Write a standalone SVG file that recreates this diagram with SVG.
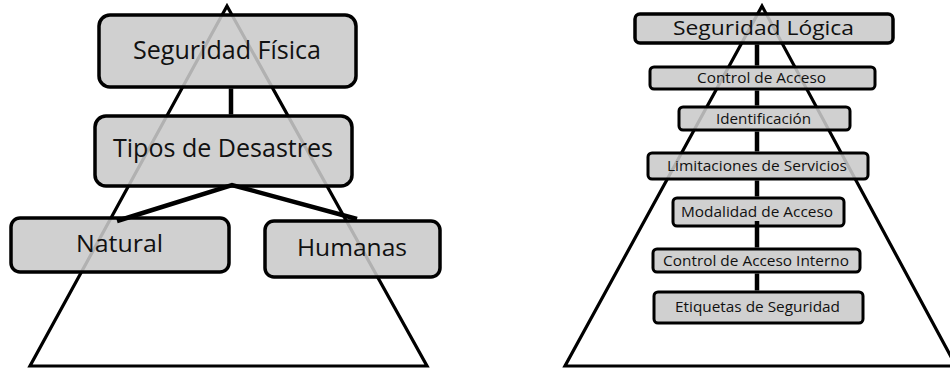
<svg xmlns="http://www.w3.org/2000/svg" width="950" height="369" viewBox="0 0 950 369">
<style>
.tri{fill:none;stroke:#000;stroke-width:3.2;stroke-linejoin:miter}
.box{fill:#cacaca;fill-opacity:0.88;stroke:#000;stroke-width:3.5}
.sbox{fill:#cacaca;fill-opacity:0.88;stroke:#000;stroke-width:3}
.conn{stroke:#000;stroke-width:4.5;fill:none;stroke-linecap:butt}
.t{font-family:"Open Sans","Noto Sans","Liberation Sans",sans-serif;fill:#111;text-anchor:middle}
</style>
<rect width="950" height="369" fill="#fff"/>
<g id="triangles">
<polygon class="tri" points="227,6 30,366 427,366"/>
<polygon class="tri" points="762,6 565,366 956,366"/>
</g>
<g id="n-seguridad-fisica">
<rect class="box" x="99" y="15" width="257" height="72" rx="11"/>
<text class="t" x="227" y="59" font-size="25" textLength="188" lengthAdjust="spacingAndGlyphs">Seguridad Física</text>
</g>
<g id="n-tipos-desastres">
<rect class="box" x="95" y="116" width="257" height="70" rx="11"/>
<text class="t" x="223" y="157" font-size="25" textLength="220" lengthAdjust="spacingAndGlyphs">Tipos de Desastres</text>
</g>
<g id="n-natural">
<rect class="box" x="11" y="218" width="218" height="54" rx="9"/>
<text class="t" x="119.5" y="252" font-size="24" textLength="87" lengthAdjust="spacingAndGlyphs">Natural</text>
</g>
<g id="n-humanas">
<rect class="box" x="265" y="221" width="175" height="56" rx="9"/>
<text class="t" x="352" y="256" font-size="24" textLength="110" lengthAdjust="spacingAndGlyphs">Humanas</text>
</g>
<g id="n-seguridad-logica">
<rect class="box" x="635" y="14" width="258" height="29" rx="5"/>
<text class="t" x="763.5" y="34.5" font-size="20" textLength="181" lengthAdjust="spacingAndGlyphs">Seguridad Lógica</text>
</g>
<g id="n-control-acceso">
<rect class="sbox" x="650" y="67" width="225" height="22" rx="4"/>
<text class="t" x="761.5" y="82.5" font-size="14" textLength="129" lengthAdjust="spacingAndGlyphs">Control de Acceso</text>
</g>
<g id="n-identificacion">
<rect class="sbox" x="679" y="107" width="171" height="23" rx="4"/>
<text class="t" x="763.5" y="123.5" font-size="14" textLength="95" lengthAdjust="spacingAndGlyphs">Identificación</text>
</g>
<g id="n-limitaciones">
<rect class="sbox" x="648" y="153" width="220" height="26" rx="4"/>
<text class="t" x="757" y="170.5" font-size="14" textLength="180" lengthAdjust="spacingAndGlyphs">Limitaciones de Servicios</text>
</g>
<g id="n-modalidad">
<rect class="sbox" x="673" y="198" width="171" height="28" rx="4"/>
<text class="t" x="757" y="216.5" font-size="14" textLength="152" lengthAdjust="spacingAndGlyphs">Modalidad de Acceso</text>
</g>
<g id="n-control-interno">
<rect class="sbox" x="653" y="249" width="207" height="23" rx="4"/>
<text class="t" x="756" y="265.5" font-size="14" textLength="186" lengthAdjust="spacingAndGlyphs">Control de Acceso Interno</text>
</g>
<g id="n-etiquetas">
<rect class="sbox" x="654" y="292" width="209" height="31" rx="4"/>
<text class="t" x="757.5" y="311.5" font-size="14" textLength="165" lengthAdjust="spacingAndGlyphs">Etiquetas de Seguridad</text>
</g>
<g id="connectors">
<line class="conn" x1="231" y1="88.5" x2="231" y2="114.5"/>
<polyline class="conn" points="117,221 232,185 357,219" stroke-width="5"/>
<line class="conn" x1="757" y1="44.5" x2="757" y2="65.5"/>
<line class="conn" x1="757" y1="90.5" x2="757" y2="105.5"/>
<line class="conn" x1="757" y1="131.5" x2="757" y2="151.5"/>
<line class="conn" x1="757" y1="180.5" x2="757" y2="196.5"/>
<line class="conn" x1="757" y1="221" x2="757" y2="247.5"/>
<line class="conn" x1="757" y1="273.5" x2="757" y2="290.5"/>
</g>
</svg>
